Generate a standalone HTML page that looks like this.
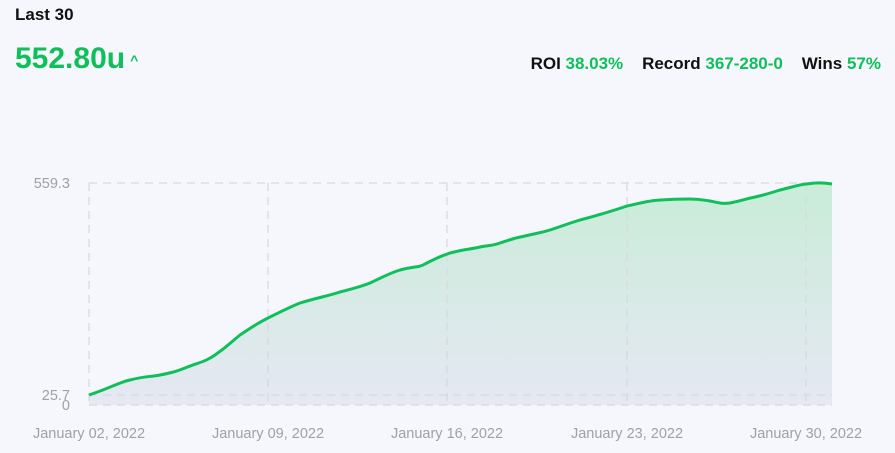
<!DOCTYPE html>
<html><head><style>
body{margin:0;width:895px;height:453px;background:#f6f7fc;font-family:"Liberation Sans",sans-serif;overflow:hidden;position:relative}
.t{position:absolute;font-weight:bold}
</style></head><body>
<div class="t" style="left:15px;top:5px;font-size:17px;color:#111">Last 30</div>
<div class="t" style="left:15px;top:42px;font-size:30px;color:#0fbf5a">552.80u<span style="font-size:14px;margin-left:5px;vertical-align:middle">^</span></div>
<div class="t" style="right:14px;top:54px;font-size:17px;color:#111">ROI <span style="color:#0fbf5a">38.03%</span>&nbsp;&nbsp;&nbsp;&nbsp;Record <span style="color:#0fbf5a">367-280-0</span>&nbsp;&nbsp;&nbsp;&nbsp;Wins <span style="color:#0fbf5a">57%</span></div>
<svg width="895" height="453" style="position:absolute;left:0;top:0">
<defs><linearGradient id="g" x1="0" y1="0" x2="0" y2="1"><stop offset="0" stop-color="#c9ecd8"/><stop offset="1" stop-color="#e6e8f3"/></linearGradient></defs>
<path d="M89,395 C110,388 120,382 130,380 C145,376 150,377 160,375 C170,373 175,372 185,368 C200,362 205,362 215,355 C228,346 230,343 240,335 C252,327 258,323 268,318 C282,311 290,307 300,303 C320,297 328,296 340,292 C355,288 360,287 370,283 C385,276 390,273 400,270 C415,266 418,268 425,264 C440,256 442,256 450,253 C465,249 472,249 480,247 C490,245 492,246 500,243 C512,239 515,238 525,236 C538,233 540,233 550,230 C565,225 570,223 580,220 C592,217 595,216 605,213 C615,210 618,209 627,206 C645,202 648,201 660,200 C675,199 680,199 690,199 C700,199 703,200 710,201 C720,203 722,204 730,203 C745,200 745,199 755,197 C768,194 770,193 780,190 C793,187 797,185 806,184 C815,183 818,182 832,184 L832,405 L89,405 Z" fill="url(#g)"/>
<g stroke="#d8d9e0" stroke-width="1.3" stroke-dasharray="8,6" fill="none">
<line x1="89" y1="183" x2="832" y2="183"/><line x1="89" y1="395" x2="832" y2="395"/><line x1="89" y1="405" x2="832" y2="405"/>
<line x1="89" y1="183" x2="89" y2="405"/><line x1="268" y1="183" x2="268" y2="405"/><line x1="447" y1="183" x2="447" y2="405"/><line x1="627" y1="183" x2="627" y2="405"/><line x1="806" y1="183" x2="806" y2="405"/>
</g>
<path d="M89,395 C110,388 120,382 130,380 C145,376 150,377 160,375 C170,373 175,372 185,368 C200,362 205,362 215,355 C228,346 230,343 240,335 C252,327 258,323 268,318 C282,311 290,307 300,303 C320,297 328,296 340,292 C355,288 360,287 370,283 C385,276 390,273 400,270 C415,266 418,268 425,264 C440,256 442,256 450,253 C465,249 472,249 480,247 C490,245 492,246 500,243 C512,239 515,238 525,236 C538,233 540,233 550,230 C565,225 570,223 580,220 C592,217 595,216 605,213 C615,210 618,209 627,206 C645,202 648,201 660,200 C675,199 680,199 690,199 C700,199 703,200 710,201 C720,203 722,204 730,203 C745,200 745,199 755,197 C768,194 770,193 780,190 C793,187 797,185 806,184 C815,183 818,182 832,184" fill="none" stroke="#0fbf5a" stroke-width="3"/>
<g font-family="Liberation Sans,sans-serif" font-size="14.5" fill="#a0a0a8">
<text x="70" y="188" text-anchor="end">559.3</text>
<text x="70" y="400" text-anchor="end">25.7</text>
<text x="70" y="410" text-anchor="end">0</text>
<text x="89" y="438" text-anchor="middle">January 02, 2022</text>
<text x="268" y="438" text-anchor="middle">January 09, 2022</text>
<text x="447" y="438" text-anchor="middle">January 16, 2022</text>
<text x="627" y="438" text-anchor="middle">January 23, 2022</text>
<text x="806" y="438" text-anchor="middle">January 30, 2022</text>
</g>
</svg>
</body></html>
